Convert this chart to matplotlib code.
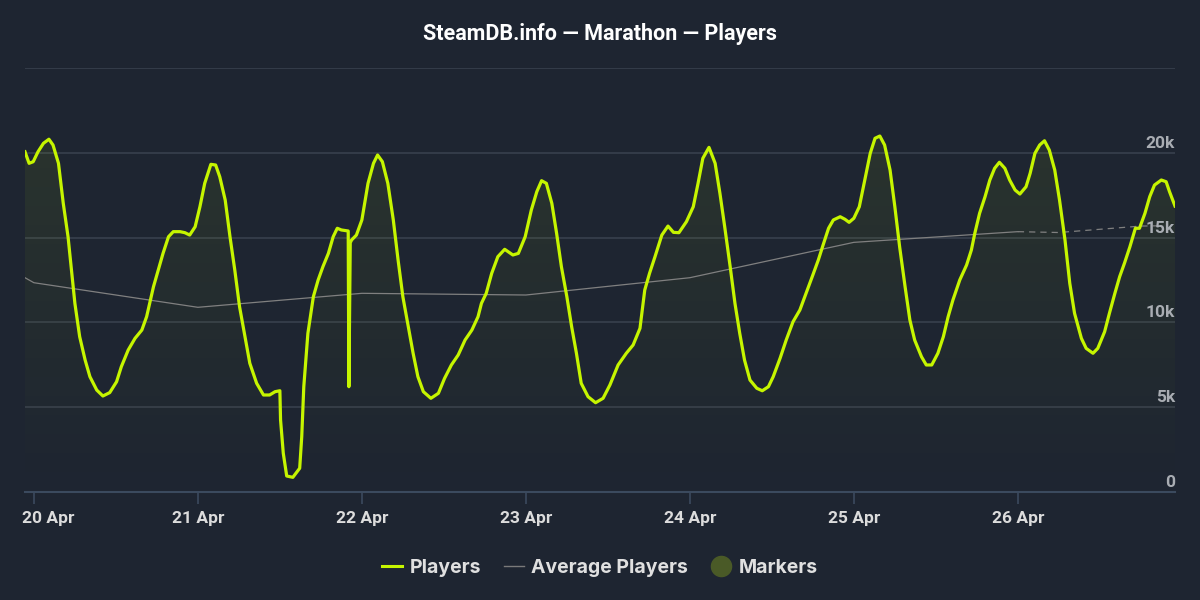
import matplotlib.pyplot as plt
import matplotlib.transforms as mtransforms
import numpy as np
from matplotlib.lines import Line2D

# hours since 20 Apr 00:00 and concurrent players
hours = [
    -1.3, -0.7, -0.1, 0.6, 1.4, 2.2, 2.8, 3.6, 4.3, 5.0, 5.5, 6.0, 6.7, 7.5, 8.2, 9.2,
    10.1, 11.1, 12.1, 12.8, 13.8, 14.8, 15.8, 16.5, 17.5, 18.2, 18.9, 19.7, 20.4, 21.4,
    22.1, 22.8, 23.6, 24.3, 25.0, 25.9, 26.6, 27.2, 28.0, 28.7, 29.4, 30.1, 30.9, 31.6,
    32.6, 33.6, 34.5, 35.3, 36.0, 36.1, 36.5, 37.0, 37.9, 38.9, 39.2, 39.5, 40.1, 40.9,
    41.6, 42.3, 43.1, 43.8, 44.4, 45.0, 46.0, 46.1, 46.3, 46.5, 47.2, 48.0, 48.9, 49.7,
    50.3, 51.0, 51.8, 52.6, 53.3, 54.0, 54.8, 55.5, 56.2, 57.0, 58.1, 59.2, 60.1, 61.1,
    62.1, 63.1, 64.1, 65.0, 65.5, 66.2, 67.0, 67.9, 68.9, 70.1, 70.9, 71.9, 72.8, 73.6,
    74.3, 75.0, 75.8, 76.5, 77.2, 78.0, 78.7, 79.4, 80.1, 81.1, 82.2, 83.3, 84.3, 85.5,
    86.7, 87.7, 88.7, 89.4, 90.1, 90.9, 91.9, 92.8, 93.6, 94.4, 95.5, 96.5, 97.2, 97.9,
    98.8, 99.7, 100.4, 101.1, 101.9, 102.6, 103.3, 104.0, 104.8, 105.8, 106.6, 107.5,
    108.2, 109.2, 110.1, 111.1, 112.1, 113.1, 114.0, 114.8, 115.5, 116.3, 117.0, 118.0,
    118.7, 119.3, 120.0, 120.8, 121.6, 122.4, 123.1, 123.8, 124.5, 125.3, 126.0, 126.7,
    127.5, 128.2, 128.9, 129.9, 130.6, 131.4, 132.3, 133.1, 133.8, 134.5, 135.5, 136.5,
    137.2, 137.7, 138.4, 139.2, 139.9, 140.6, 141.3, 142.1, 142.8, 143.6, 144.3, 145.2,
    145.8, 146.5, 147.2, 147.9, 148.6, 149.4, 150.1, 150.9, 151.6, 152.3, 153.3, 154.0,
    155.0, 155.7, 156.7, 157.4, 158.2, 158.9, 159.6, 160.4, 161.2, 161.8, 162.6, 163.3,
    164.0, 165.0, 165.7, 166.2, 167.0,
]
players = [
    20060, 19380, 19475, 20060, 20560, 20800, 20460, 19380, 17020, 15050, 13090, 11125,
    9160, 7780, 6800, 6010, 5660, 5860, 6500, 7390, 8370, 9060, 9550, 10340, 12100, 13090,
    14070, 15050, 15350, 15350, 15290, 15150, 15640, 16820, 18200, 19320, 19280, 18590,
    17215, 15050, 13090, 10925, 9160, 7590, 6410, 5720, 5720, 5915, 5970, 4245, 2280, 943,
    865, 1400, 3260, 6210, 9355, 11515, 12500, 13285, 14070, 15050, 15550, 15450, 15390,
    6210, 14700, 14860, 15150, 16040, 18200, 19380, 19870, 19475, 18200, 16040, 13680,
    11515, 9745, 8180, 6800, 5915, 5525, 5820, 6700, 7490, 8080, 8960, 9550, 10335, 11125,
    11715, 12895, 13875, 14310, 13975, 14070, 15050, 16630, 17705, 18355, 18200, 17020,
    15250, 13285, 11515, 9745, 8180, 6410, 5620, 5265, 5525, 6310, 7490, 8180, 8670, 9650,
    11910, 12895, 13875, 15150, 15680, 15310, 15290, 15940, 16820, 18200, 19675, 20320,
    19380, 17610, 15640, 13285, 11125, 9355, 7780, 6600, 6115, 5970, 6210, 6800, 7880,
    8960, 10040, 10730, 11810, 12795, 13680, 14565, 15550, 16040, 16230, 16080, 15900,
    16140, 16820, 18395, 19970, 20855, 20990, 20460, 18985, 16820, 14460, 12100, 10140,
    8960, 7975, 7490, 7490, 8180, 9160, 10335, 11320, 12500, 13385, 14270, 15250, 16430,
    17410, 18395, 19085, 19440, 19085, 18395, 17805, 17570, 18000, 18790, 19970, 20460,
    20710, 20165, 18985, 17215, 14860, 12305, 10535, 9060, 8470, 8180, 8470, 9450, 10535,
    11715, 12695, 13485, 14460, 15550, 15550, 16430, 17410, 18100, 18395, 18295, 17705,
    16860,
]

avg_hours = [-1.3, 0, 24, 48, 72, 96, 120, 144]
avg_players = [12635, 12340, 10890, 11715, 11615, 12635, 14720, 15350]
avg_proj_hours = [144, 150, 162, 165.4]
avg_proj_players = [15350, 15300, 15680, 15700]

day_ticks = [0, 24, 48, 72, 96, 120, 144]
day_labels = ["20 Apr", "21 Apr", "22 Apr", "23 Apr", "24 Apr", "25 Apr", "26 Apr"]
y_ticks = [0, 5000, 10000, 15000, 20000]
y_labels = ["0", "5k", "10k", "15k", "20k"]

bg = "#1e2531"
lime = "#c6f500"
grid_c = "#363e4b"

fig = plt.figure(figsize=(12, 6), dpi=100, facecolor=bg)
ax = fig.add_axes([25 / 1200, 108 / 600, 1150 / 1200, 424 / 600], facecolor=bg)

x = np.array(hours)
y = np.array(players)

# soft gradient fill under the players line, strongest at the top
poly = ax.fill_between(x, 0, y, color="none", lw=0)
grad = np.zeros((256, 1, 4))
grad[:, 0, :3] = [0.78, 0.96, 0.0]
grad[:, 0, 3] = np.linspace(0.075, 0.0, 256)
img = ax.imshow(grad, extent=[x.min(), x.max(), 0, 21500], aspect="auto",
                origin="upper", zorder=1, interpolation="bilinear")
img.set_clip_path(poly.get_paths()[0], transform=ax.transData)

for v in [5000, 10000, 15000, 20000, 25000]:
    ax.axhline(v, color=grid_c, lw=1.3, zorder=0.5)

ax.plot(avg_hours, avg_players, color="#808080", lw=0.9, zorder=2)
ax.plot(avg_proj_hours, avg_proj_players, color="#808080", lw=0.9, ls=(0, (5, 4)), zorder=2)
ax.plot(x, y, color=lime, lw=2.3, zorder=3, solid_joinstyle="round")

ax.set_xlim(-1.3, 167.0)
ax.set_ylim(0, 25000)
for s in ["top", "left", "right"]:
    ax.spines[s].set_visible(False)
ax.spines["bottom"].set_color("#3b4a5e")
ax.spines["bottom"].set_linewidth(1.5)

ax.set_yticks([])
ax.set_xticks(day_ticks)
ax.set_xticklabels(day_labels, fontfamily="Roboto", fontweight="bold", fontsize=12.5,
                   color="#dcdcdc")
ax.tick_params(axis="x", length=8.5, width=1.2, color="#3b4a5e", pad=5)

# first label is pushed right so it stays inside the chart, like the original
first = ax.get_xticklabels()[0]
first.set_ha("left")
first.set_transform(first.get_transform() +
                    mtransforms.ScaledTranslation(-12 / 100, 0, fig.dpi_scale_trans))

for v, lab in zip(y_ticks, y_labels):
    ax.annotate(lab, xy=(1.0, v), xycoords=("axes fraction", "data"),
                xytext=(0, 1.5), textcoords="offset points", ha="right", va="bottom",
                fontfamily="Roboto", fontweight="bold", fontsize=12.5, color="#a9adb3",
                zorder=4)

fig.text(0.5, 0.943, "SteamDB.info \u2014 Marathon \u2014 Players", ha="center", va="center",
         fontfamily="Roboto", fontweight="bold", fontsize=15.5, color="white")

handles = [
    Line2D([], [], color=lime, lw=2.2),
    Line2D([], [], color="#7a7a7a", lw=1.0),
    Line2D([], [], ls="none", marker="o", markersize=14.5, color="#4a5a27"),
]
leg = fig.legend(handles, ["Players", "Average Players", "Markers"], loc="center",
                 bbox_to_anchor=(0.5, 0.053), ncol=3, frameon=False, handlelength=1.0,
                 handletextpad=0.4, columnspacing=1.2,
                 prop={"family": "Inter", "weight": "bold", "size": 14})
for t in leg.get_texts():
    t.set_color("#e0e0e0")

plt.savefig("out.png", dpi=100, facecolor=bg)
plt.close()
